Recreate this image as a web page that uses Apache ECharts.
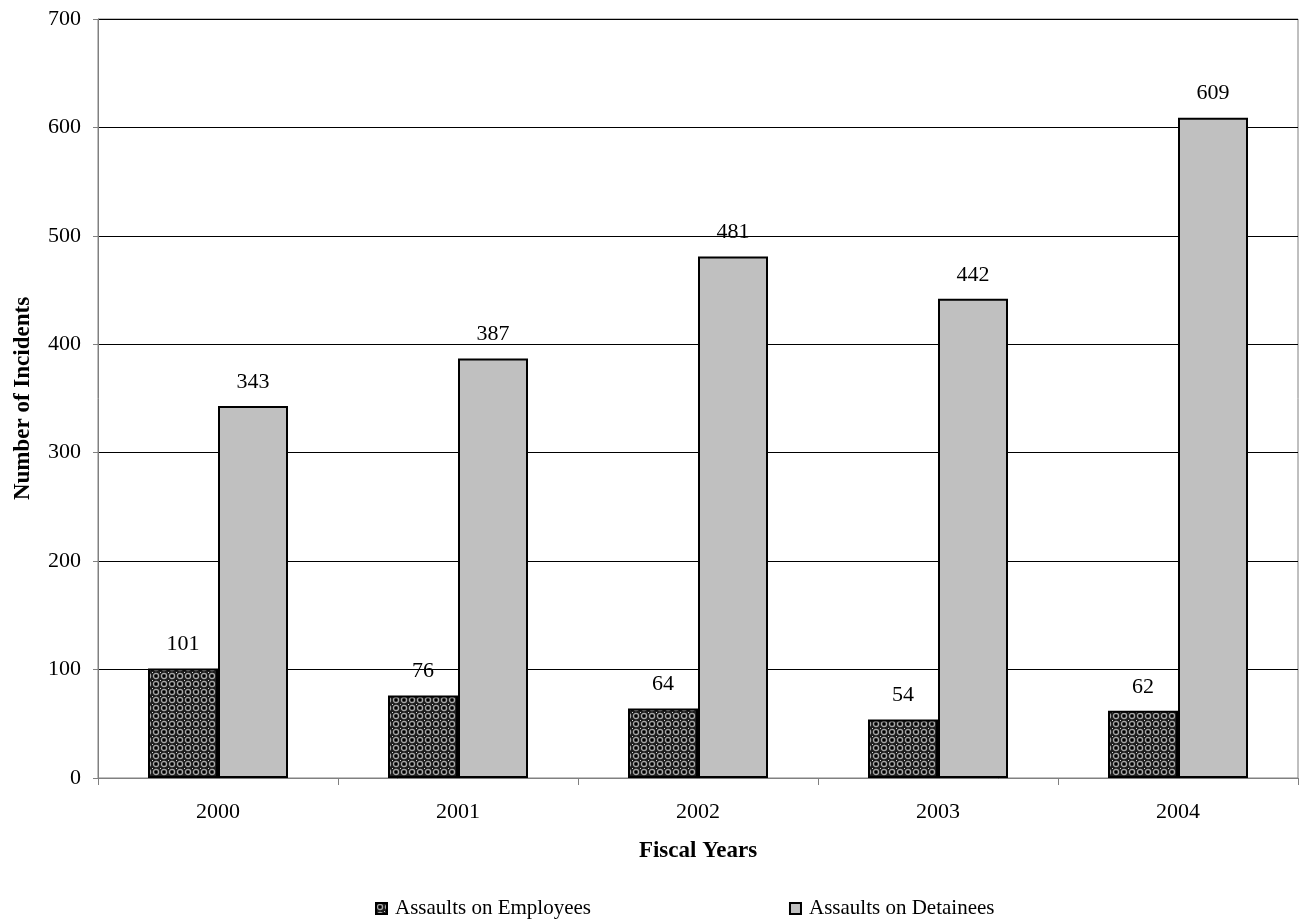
<!DOCTYPE html>
<html>
<head>
<meta charset="utf-8">
<script src="https://cdn.jsdelivr.net/npm/echarts@6/dist/echarts.min.js"></script>
<style>html,body{margin:0;padding:0;background:#fff}#c{width:1302px;height:920px}</style>
</head>
<body>
<div id="c"></div>
<script>
const categories = ['2000', '2001', '2002', '2003', '2004'];
const employees = [101, 76, 64, 54, 62];
const detainees = [343, 387, 481, 442, 609];
const seriesNames = ['Assaults on Employees', 'Assaults on Detainees'];
const yTicks = { min: 0, max: 700, interval: 100 };

const FONT = "'Liberation Serif', 'Times New Roman', serif";

function makePattern() {
  const c = document.createElement('canvas');
  c.width = 8; c.height = 8;
  const g = c.getContext('2d');
  g.fillStyle = '#1e1e1e';
  g.fillRect(0, 0, 8, 8);
  g.strokeStyle = '#a8a8a8';
  g.lineWidth = 1.2;
  g.beginPath(); g.arc(4, 4, 2.6, 0, Math.PI * 2); g.stroke();
  g.fillStyle = '#000';
  g.fillRect(3, 3, 2, 2);
  g.fillStyle = '#d8d8d8';
  g.fillRect(0, 0, 1, 1);
  return c;
}

const chart = echarts.init(document.getElementById('c'), null, { renderer: 'canvas' });
const labelStyle = { show: true, position: 'top', distance: 13, color: '#000', fontFamily: FONT, fontSize: 22 };
chart.setOption({
  animation: false,
  textStyle: { fontFamily: FONT },
  grid: { left: 98, right: 4, top: 19, bottom: 142, show: true, borderColor: '#808080', borderWidth: 1 },
  legend: {
    top: 893, left: 370, itemWidth: 11, itemHeight: 11, itemGap: 198,
    textStyle: { fontFamily: FONT, fontSize: 21, color: '#000', padding: [0, 0, 0, 3] },
    data: seriesNames.map(n => ({ name: n, icon: 'rect' }))
  },
  xAxis: {
    type: 'category', data: categories,
    name: 'Fiscal Years', nameLocation: 'middle', nameGap: 62,
    nameTextStyle: { fontFamily: FONT, fontSize: 23, fontWeight: 'bold', color: '#000' },
    axisLine: { lineStyle: { color: '#808080', width: 1 } },
    axisTick: { show: true, length: 7, lineStyle: { color: '#808080' } },
    axisLabel: { color: '#000', fontFamily: FONT, fontSize: 22, margin: 23 },
    splitLine: { show: false }
  },
  yAxis: {
    type: 'value', min: yTicks.min, max: yTicks.max, interval: yTicks.interval,
    name: 'Number of Incidents', nameLocation: 'middle', nameGap: 63, nameRotate: 90,
    nameTextStyle: { fontFamily: FONT, fontSize: 23, fontWeight: 'bold', color: '#000' },
    axisLine: { show: true, lineStyle: { color: '#808080', width: 1 } },
    axisTick: { show: true, length: 5, lineStyle: { color: '#808080' } },
    axisLabel: { color: '#000', fontFamily: FONT, fontSize: 22, margin: 17 },
    splitLine: { show: true, lineStyle: { color: '#000', width: 1 } }
  },
  series: [
    {
      name: seriesNames[0], type: 'bar', data: employees, barWidth: 70, barGap: '0%',
      itemStyle: { color: { image: makePattern(), repeat: 'repeat' }, borderColor: '#000', borderWidth: 2 },
      label: labelStyle
    },
    {
      name: seriesNames[1], type: 'bar', data: detainees, barWidth: 70, barGap: '0%',
      itemStyle: { color: '#C0C0C0', borderColor: '#000', borderWidth: 2 },
      label: labelStyle
    }
  ]
});
</script>
</body>
</html>
